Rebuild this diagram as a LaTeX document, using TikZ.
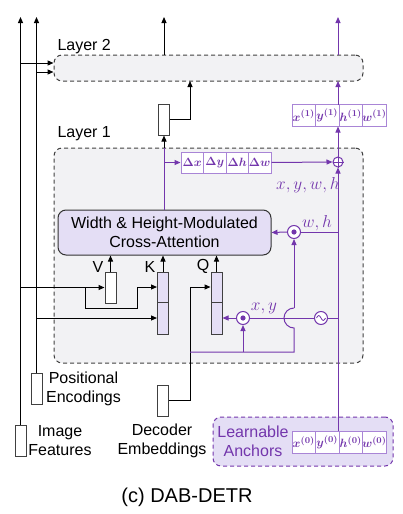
\documentclass[tikz,border=0pt]{standalone}
\usepackage{fontspec}
\setmainfont{Liberation Sans}
\usepackage{amsmath,bm}
\usetikzlibrary{arrows.meta}
\definecolor{pur}{HTML}{7336AC}
\definecolor{purlt}{HTML}{A985D6}
\definecolor{lav}{HTML}{E4DEF5}
\definecolor{lgray}{HTML}{F2F2F4}
\begin{document}
\begin{tikzpicture}[x=1pt,y=-1pt, line width=1pt,
 every node/.style={font=\fontsize{16}{19}\selectfont, inner sep=0pt},
 arr/.style={-{Triangle[length=6pt,width=5pt]}},
 layerbox/.style={draw=black!75, dash pattern=on 4pt off 3pt, rounded corners=8pt, fill=lgray, minimum width=309pt},
 vecbox/.style={draw=black!75, fill=white, minimum width=11pt, minimum height=31pt},
 halfbox/.style={draw=black!75, fill=lav, minimum width=11pt, minimum height=31pt},
 cell/.style={draw=purlt, fill=white, text=pur, minimum width=23.5pt, minimum height=22pt, font=\fontsize{13}{15}\selectfont},
 dcell/.style={cell, minimum width=22.5pt, minimum height=21pt, font=\fontsize{12.5}{15}\selectfont},
 opc/.style={circle, draw=pur, fill=white, minimum size=13pt},
 plbl/.style={text=pur},
]
\useasboundingbox (0,0) rectangle (402,514);

% layer boxes
\node[layerbox, minimum height=26pt] (L2) at (208.5,68) {};
\node[layerbox, minimum height=215pt] (L1) at (208.5,255.5) {};
\node[anchor=base west] at (57,50) {Layer 2};
\node[anchor=base west] at (57,137) {Layer 1};

% learnable anchors
\node[draw=pur, dash pattern=on 4pt off 3pt, rounded corners=8pt, fill=lav, minimum width=180pt, minimum height=49pt] (LA) at (303,441.5) {};
\node[plbl, align=center] at (253,441) {Learnable\\Anchors};

% input boxes
\node[vecbox] (IF) at (20.5,440.5) {};
\node[vecbox] (PE) at (36.5,388.5) {};
\node[vecbox] (DE) at (163,400.5) {};
\node[align=center] at (60,441) {Image\\Features};
\node[align=center] at (83.5,389) {Positional\\Encodings};
\node[align=center] at (162,441) {Decoder\\Embeddings};

% attention
\node[draw=black!80, rounded corners=8pt, fill=lav, minimum width=213pt, minimum height=45pt] (AT) at (164.5,232.5) {};
\node[align=center] at (164.5,232.5) {Width \& Height-Modulated\\Cross-Attention};

% V K Q
\node[vecbox] (V) at (110.5,287.5) {};
\node[halfbox, minimum height=30pt] (K1) at (163,287) {};
\node[halfbox, minimum height=32pt] (K2) at (163,318) {};
\node[halfbox, minimum height=30pt] (Q1) at (216.5,287) {};
\node[halfbox, minimum height=32pt] (Q2) at (216.5,318) {};
\node at (98,266.5) {V};
\node at (150,266.5) {K};
\node at (203,266.5) {Q};

% FFN box
\node[vecbox] (FF) at (164,119.5) {};

% delta cells
\node[dcell] (dx) at (192.25,162.5) {$\bm{\Delta x}$};
\node[dcell] (dy) at (214.75,162.5) {$\bm{\Delta y}$};
\node[dcell] (dh) at (237.25,162.5) {$\bm{\Delta h}$};
\node[dcell] (dw) at (259.75,162.5) {$\bm{\Delta w}$};

% anchor cells layer 1
\node[cell] (x1) at (303.75,115.5) {$\bm{x^{(1)}}$};
\node[cell] (y1) at (327.25,115.5) {$\bm{y^{(1)}}$};
\node[cell] (h1) at (350.75,115.5) {$\bm{h^{(1)}}$};
\node[cell] (w1) at (374.25,115.5) {$\bm{w^{(1)}}$};
% anchor cells layer 0
\node[cell] (x0) at (303.75,442) {$\bm{x^{(0)}}$};
\node[cell] (y0) at (327.25,442) {$\bm{y^{(0)}}$};
\node[cell] (h0) at (350.75,442) {$\bm{h^{(0)}}$};
\node[cell] (w0) at (374.25,442) {$\bm{w^{(0)}}$};

% operators
\node[opc, minimum size=10pt] (PL) at (338,162) {};
\draw[pur, line width=0.8pt] (PL.north) -- (PL.south) (PL.west) -- (PL.east);
\node[opc] (MW) at (294,232) {};
\fill[pur] (MW.center) circle[radius=2.6pt];
\node[opc] (MX) at (243,318) {};
\fill[pur] (MX.center) circle[radius=2.6pt];
\node[opc] (SN) at (321,318) {};
\draw[pur, line width=0.8pt, shift={(SN.center)}] (-4.5,0) sin (-2.25,-2.5) cos (0,0) sin (2.25,2.5) cos (4.5,0);

% purple labels
\node[plbl, font=\fontsize{17}{19}\selectfont] at (308,185) {$x, y, w, h$};
\node[plbl, font=\fontsize{17}{19}\selectfont] at (317,223) {$w, h$};
\node[plbl, font=\fontsize{17}{19}\selectfont] at (264,308) {$x, y$};

% black input lines
\draw[arr] (IF.north) -- (20.5,17);
\draw[arr] (PE.north) -- (36.5,17);
\draw[arr] (20.5,63) -- (L2.west |- 0,63);
\draw[arr] (36.5,72) -- (L2.west |- 0,72);
\draw[arr] (20.5,287.5) -- (V.west);
\draw[arr] (85,287.5) |- (137,308) |- (K1.west);
\draw[arr] (36.5,318) -- (K2.west);
\draw[arr] (DE.east) -| (190,287) -- (Q1.west);
\draw[arr] (V.north) -- (V.north |- AT.south);
\draw[arr] (K1.north) -- (K1.north |- AT.south);
\draw[arr] (Q1.north) -- (Q1.north |- AT.south);

% attention output
\draw[pur] (FF.south |- AT.north) -- (FF.south |- L1.north);
\draw[arr] (FF.south |- L1.north) -- (FF.south);
\draw[arr] (FF.east) -| (190,81);
\draw[arr] (164,55) -- (164,17);
\draw[arr, pur] (164,162.5) -- (dx.west);
\draw[arr, pur] (dw.east) -- (PL.west);

% anchor path
\draw[arr, pur] (338,431) -- (PL.south);
\draw[arr, pur] (PL.north) -- (338,126.5);
\draw[arr, pur] (338,104.5) -- (338,81);
\draw[arr, pur] (338,55) -- (338,17);

% w,h modulation
\draw[pur] (338,232) -- (MW.east);
\draw[arr, pur] (MW.west) -- (AT.east);
% x,y
\draw[pur] (338,318) -- (SN.east);
\draw[pur] (SN.west) -- (MX.east);
\draw[arr, pur] (MX.west) -- (Q2.east);
% bottom purple feed
\draw[pur] (190,352) -- (294,352) -- (294,328) arc[start angle=90, end angle=270, radius=10];
\draw[arr, pur] (294,308) -- (MW.south);
\draw[arr, pur] (243,352) -- (MX.south);

% caption
\node[font=\fontsize{20}{24}\selectfont] at (187,497) {(c) DAB-DETR};
\end{tikzpicture}
\end{document}
